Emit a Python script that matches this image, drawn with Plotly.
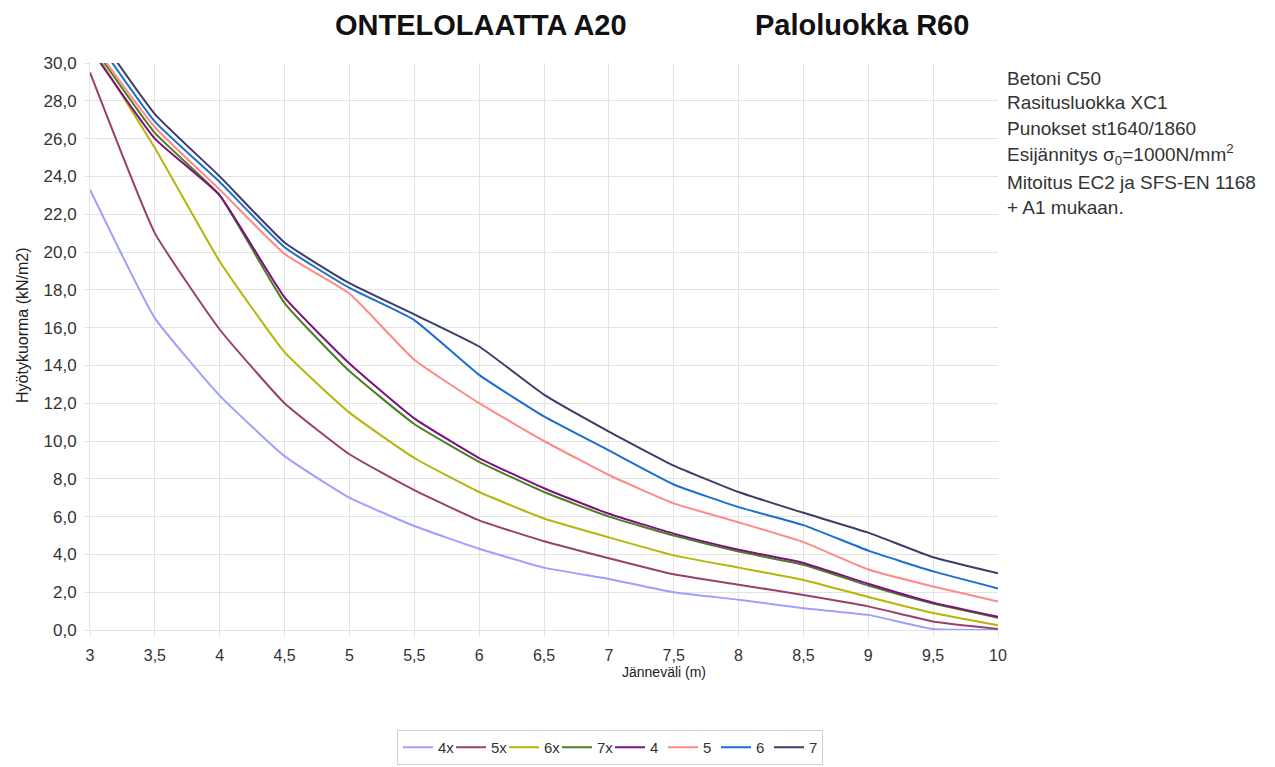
import plotly.graph_objects as go

span = [3, 3.5, 4, 4.5, 5, 5.5, 6, 6.5, 7, 7.5, 8, 8.5, 9, 9.5, 10]

s_4x = [23.3, 16.5, 12.4, 9.2, 7.0, 5.5, 4.3, 3.3, 2.7, 2.0, 1.6, 1.15, 0.8, 0.05, 0.0]
s_5x = [29.5, 21.0, 15.9, 12.0, 9.3, 7.4, 5.8, 4.7, 3.8, 2.95, 2.4, 1.85, 1.25, 0.45, 0.05]
s_6x = [31.0, 25.5, 19.5, 14.7, 11.5, 9.1, 7.3, 5.9, 4.9, 3.95, 3.3, 2.65, 1.75, 0.9, 0.25]
s_7x = [31.1, 26.3, 23.0, 17.3, 13.7, 10.9, 8.9, 7.3, 6.0, 5.0, 4.15, 3.45, 2.35, 1.4, 0.65]
s_4 = [30.8, 26.0, 23.0, 17.6, 14.1, 11.2, 9.1, 7.5, 6.15, 5.1, 4.25, 3.55, 2.45, 1.45, 0.7]
s_5 = [31.2, 26.6, 23.3, 19.9, 17.8, 14.3, 12.0, 10.0, 8.2, 6.7, 5.7, 4.65, 3.2, 2.3, 1.5]
s_6 = [31.7, 26.9, 23.7, 20.25, 18.1, 16.4, 13.5, 11.3, 9.5, 7.7, 6.5, 5.55, 4.2, 3.1, 2.2]
s_7 = [32.1, 27.3, 24.0, 20.5, 18.35, 16.7, 15.0, 12.45, 10.5, 8.7, 7.3, 6.2, 5.15, 3.85, 3.0]

names = ["4x", "5x", "6x", "7x", "4", "5", "6", "7"]
series = [s_4x, s_5x, s_6x, s_7x, s_4, s_5, s_6, s_7]
colors = ["#9f9fff", "#99406f", "#b5b50a", "#4a7f22", "#7d0f80", "#ff8a85", "#1a6fd0", "#3d3d6b"]

x_ticks = [3, 3.5, 4, 4.5, 5, 5.5, 6, 6.5, 7, 7.5, 8, 8.5, 9, 9.5, 10]
y_ticks = [0, 2, 4, 6, 8, 10, 12, 14, 16, 18, 20, 22, 24, 26, 28, 30]

info_lines = [
    "Betoni C50",
    "Rasitusluokka XC1",
    "Punokset st1640/1860",
    "Esijännitys σ<sub>0</sub>=1000N/mm<sup>2</sup>",
    "Mitoitus EC2 ja SFS-EN 1168",
    "+ A1 mukaan.",
]

OFF = 8                                  # page body margin
W, H = 1275 - 2 * OFF, 767 - OFF

L, R, T, B = 90, 998, 63, 630            # plot area in screen pixels
PW, PH = R - L, B - T


def px(xs):
    return (xs - L) / PW


def py(ys):
    return (B - ys) / PH


fig = go.Figure()
for n, s, c in zip(names, series, colors):
    fig.add_trace(go.Scatter(x=span, y=s, name=n, mode="lines",
                             line=dict(color=c, width=2, shape="spline", smoothing=0.4)))

grid = "#e3e3e3"
fig.update_layout(
    width=W, height=H,
    margin=dict(l=L - OFF, r=W - (R - OFF), t=T - OFF, b=H - (B - OFF), autoexpand=False),
    paper_bgcolor="white", plot_bgcolor="white",
    separators=", ",
    font=dict(family="Liberation Sans, Arial, sans-serif", color="#333333", size=16),
    showlegend=True,
    legend=dict(orientation="h", x=px(610), xanchor="center", y=py(730), yanchor="top",
                bordercolor="#d0d0d0", borderwidth=1, font=dict(size=15),
                itemwidth=30, tracegroupgap=0, entrywidth=8, entrywidthmode="pixels"),
    xaxis=dict(range=[3, 10], tickvals=x_ticks, ticktext=[f"{v:g}".replace(".", ",") for v in x_ticks],
               showgrid=True, gridcolor=grid, gridwidth=1, zeroline=False, automargin=False,
               showline=True, linecolor=grid, ticks="outside", ticklen=6, tickcolor=grid,
               ticklabelstandoff=5, tickfont=dict(size=16)),
    yaxis=dict(range=[0, 30], tickvals=y_ticks, tickformat=".1f", automargin=False,
               showgrid=True, gridcolor=grid, gridwidth=1, zeroline=False,
               showline=True, linecolor=grid, ticks="outside", ticklen=5, tickcolor=grid,
               ticklabelstandoff=4, tickfont=dict(size=17)),
)

# axis titles
fig.add_annotation(text="Jänneväli (m)", xref="paper", yref="paper",
                   x=px(620), y=py(672), showarrow=False, xanchor="left", yanchor="middle",
                   font=dict(size=14, color="#222222"))
fig.add_annotation(text="Hyötykuorma (kN/m2)", xref="paper", yref="paper",
                   x=px(22), y=py(325), showarrow=False, textangle=-90,
                   xanchor="center", yanchor="middle",
                   font=dict(size=16, color="#222222"))

# title
fig.add_annotation(text="<b>ONTELOLAATTA A20</b>", xref="paper", yref="paper",
                   x=px(481), y=py(25), showarrow=False,
                   font=dict(size=29, color="#111111"), xanchor="center", yanchor="middle")
fig.add_annotation(text="<b>Paloluokka R60</b>", xref="paper", yref="paper",
                   x=px(862), y=py(25), showarrow=False,
                   font=dict(size=29, color="#111111"), xanchor="center", yanchor="middle")

line_y = [78, 102, 128, 154, 182, 207]
for t, yy in zip(info_lines, line_y):
    fig.add_annotation(text=t, xref="paper", yref="paper",
                       x=px(1005), y=py(yy), showarrow=False,
                       font=dict(size=19, color="#333333"), xanchor="left", yanchor="middle")

fig.write_html("out.html")
